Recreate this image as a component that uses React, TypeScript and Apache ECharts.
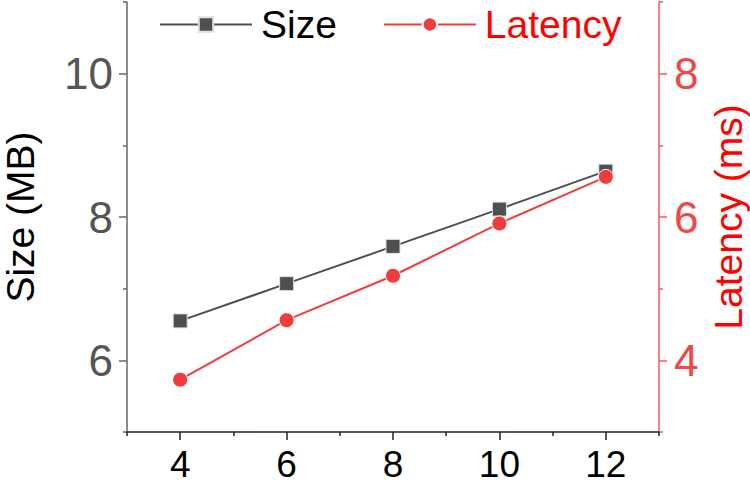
import React, { useEffect, useRef } from "react";
import * as echarts from "echarts";

const xValues = [4, 6, 8, 10, 12];
const sizeMB = [6.55, 7.07, 7.59, 8.11, 8.64];
const latencyMs = [3.73, 4.56, 5.18, 5.91, 6.56];
const xMajorTicks = [4, 6, 8, 10, 12];
const xMinorTicks = [3, 5, 7, 9, 11, 13];
const sizeMajorTicks = [6, 8, 10];
const sizeMinorTicks = [5, 7, 9, 11];
const latMajorTicks = [4, 6, 8];
const latMinorTicks = [3, 5, 7, 9];

const FONT = "Liberation Sans, Arial, sans-serif";
const SIZE_COLOR = "#4f4f4f";
const LAT_COLOR = "#f03c3c";

export default function App() {
  const ref = useRef<HTMLDivElement>(null);
  useEffect(() => {
    if (!ref.current) return;
    const chart = echarts.init(ref.current, undefined, { renderer: "svg" });
    chart.setOption({
      animation: false,
      textStyle: { fontFamily: FONT },
      grid: { left: 127, right: 91, top: 2, bottom: 56, containLabel: false, outerBoundsMode: "none" },
      legend: {
        top: 0,
        left: 154,
        itemWidth: 92,
        itemHeight: 18,
        itemGap: 46,
        textStyle: { fontSize: 39, fontFamily: FONT, padding: [0, 0, 0, 4] },
        data: [
          { name: "Size", textStyle: { color: "#000" } },
          { name: "Latency", textStyle: { color: "#ff0000" } },
        ],
      },
      xAxis: [
        {
          type: "value",
          min: 3,
          max: 13,
          position: "bottom",
          axisLine: { show: true, lineStyle: { color: "#222", width: 1.5 } },
          axisTick: { show: true, length: 8, customValues: xMajorTicks, lineStyle: { color: "#222", width: 1.5 } },
          axisLabel: { show: true, customValues: xMajorTicks, fontSize: 37, color: "#000", margin: 14, fontFamily: FONT },
          splitLine: { show: false },
        },
        {
          type: "value",
          min: 3,
          max: 13,
          position: "bottom",
          axisLine: { show: false },
          axisTick: { show: true, length: 4, customValues: xMinorTicks, lineStyle: { color: "#222", width: 1.5 } },
          axisLabel: { show: false },
          splitLine: { show: false },
        },
      ],
      yAxis: [
        {
          type: "value",
          min: 5,
          max: 11,
          position: "left",
          name: "Size (MB)",
          nameLocation: "middle",
          nameRotate: 90,
          nameGap: 87,
          nameTextStyle: { fontSize: 39, color: "#000", fontFamily: FONT },
          axisLine: { show: true, lineStyle: { color: "#666", width: 1.5 } },
          axisTick: { show: true, length: 8, customValues: sizeMajorTicks, lineStyle: { color: "#666", width: 1.5 } },
          axisLabel: { show: true, customValues: sizeMajorTicks, fontSize: 44, color: "#555", margin: 14, fontFamily: FONT },
          splitLine: { show: false },
        },
        {
          type: "value",
          min: 3,
          max: 9,
          position: "right",
          name: "Latency (ms)",
          nameLocation: "middle",
          nameRotate: 90,
          nameGap: 47,
          nameTextStyle: { fontSize: 39, color: "#ff0000", fontFamily: FONT },
          axisLine: { show: true, lineStyle: { color: "#f05a5a", width: 1.5 } },
          axisTick: { show: true, length: 8, customValues: latMajorTicks, lineStyle: { color: "#f05a5a", width: 1.5 } },
          axisLabel: { show: true, customValues: latMajorTicks, fontSize: 44, color: "#f04848", margin: 15, fontFamily: FONT },
          splitLine: { show: false },
        },
        {
          type: "value",
          min: 5,
          max: 11,
          position: "left",
          axisLine: { show: false },
          axisTick: { show: true, length: 4, customValues: sizeMinorTicks, lineStyle: { color: "#666", width: 1.5 } },
          axisLabel: { show: false },
          splitLine: { show: false },
        },
        {
          type: "value",
          min: 3,
          max: 9,
          position: "right",
          axisLine: { show: false },
          axisTick: { show: true, length: 4, customValues: latMinorTicks, lineStyle: { color: "#f05a5a", width: 1.5 } },
          axisLabel: { show: false },
          splitLine: { show: false },
        },
      ],
      series: [
        {
          name: "Size",
          type: "line",
          xAxisIndex: 0,
          yAxisIndex: 0,
          data: xValues.map((x, i) => [x, sizeMB[i]]),
          symbol: "rect",
          symbolSize: 14,
          lineStyle: { color: SIZE_COLOR, width: 2 },
          itemStyle: { color: SIZE_COLOR, borderColor: "#e0e0e0", borderWidth: 1 },
          z: 3,
        },
        {
          name: "Latency",
          type: "line",
          xAxisIndex: 0,
          yAxisIndex: 1,
          data: xValues.map((x, i) => [x, latencyMs[i]]),
          symbol: "circle",
          symbolSize: 15,
          lineStyle: { color: LAT_COLOR, width: 2 },
          itemStyle: { color: LAT_COLOR, borderColor: "#fff", borderWidth: 1 },
          z: 4,
        },
      ],
    });
    return () => chart.dispose();
  }, []);
  return (
    <div
      ref={ref}
      style={{ position: "fixed", left: 0, top: 0, width: 750, height: 488, background: "#fff" }}
    />
  );
}
